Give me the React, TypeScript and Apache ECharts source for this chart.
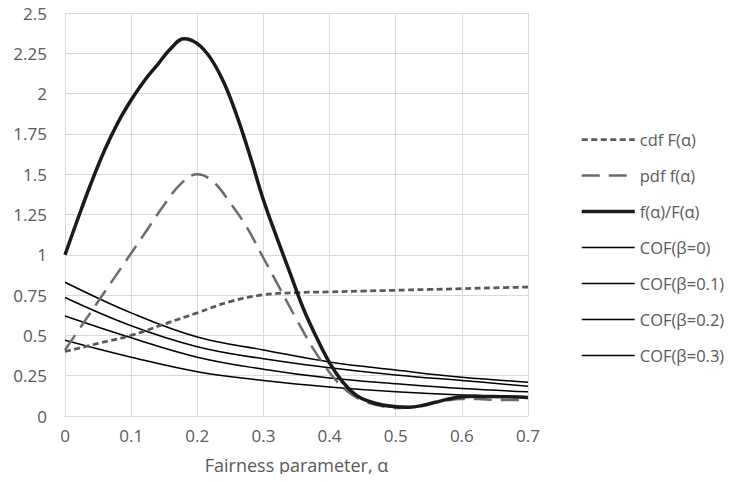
import React, { useEffect, useRef } from "react";
import * as echarts from "echarts";

const xTicksMax = 0.7;
const yTicksMax = 2.5;

const cdfAlpha = [0, 0.05, 0.1, 0.15, 0.2, 0.25, 0.3, 0.35, 0.4, 0.45, 0.5, 0.55, 0.6, 0.65, 0.7];
const cdfValues = [0.4, 0.45, 0.5, 0.57, 0.64, 0.71, 0.752, 0.765, 0.77, 0.775, 0.78, 0.785, 0.79, 0.795, 0.8];

const pdfAlpha = [0, 0.025, 0.05, 0.075, 0.1, 0.125, 0.15, 0.175, 0.2, 0.225, 0.25, 0.275, 0.3, 0.325, 0.35, 0.375, 0.4, 0.425, 0.45, 0.475, 0.5, 0.525, 0.55, 0.575, 0.6, 0.625, 0.65, 0.675, 0.7];
const pdfValues = [0.41, 0.56, 0.71, 0.86, 1.01, 1.16, 1.31, 1.44, 1.5, 1.45, 1.32, 1.17, 0.98, 0.79, 0.6, 0.42, 0.27, 0.16, 0.095, 0.065, 0.05, 0.055, 0.075, 0.095, 0.105, 0.105, 0.1, 0.1, 0.1];

const ratioAlpha = [0, 0.02, 0.04, 0.06, 0.08, 0.1, 0.12, 0.14, 0.16, 0.18, 0.2, 0.22, 0.24, 0.26, 0.28, 0.3, 0.32, 0.34, 0.36, 0.38, 0.4, 0.42, 0.44, 0.46, 0.48, 0.5, 0.52, 0.54, 0.56, 0.58, 0.6, 0.62, 0.64, 0.66, 0.68, 0.7];
const ratioValues = [1.0, 1.23, 1.45, 1.65, 1.82, 1.96, 2.08, 2.18, 2.28, 2.34, 2.31, 2.22, 2.07, 1.86, 1.61, 1.34, 1.11, 0.89, 0.67, 0.49, 0.33, 0.21, 0.13, 0.09, 0.068, 0.058, 0.055, 0.065, 0.085, 0.105, 0.12, 0.122, 0.121, 0.12, 0.118, 0.115];

const cofAlpha = [0, 0.1, 0.2, 0.3, 0.4, 0.5, 0.6, 0.7];
const cofBeta0 = [0.83, 0.64, 0.49, 0.41, 0.335, 0.285, 0.24, 0.21];
const cofBeta01 = [0.735, 0.56, 0.43, 0.355, 0.3, 0.255, 0.22, 0.185];
const cofBeta02 = [0.62, 0.485, 0.365, 0.29, 0.235, 0.2, 0.17, 0.15];
const cofBeta03 = [0.47, 0.365, 0.275, 0.22, 0.18, 0.15, 0.13, 0.12];

const seriesNames = ["cdf F(α)", "pdf f(α)", "f(α)/F(α)", "COF(β=0)", "COF(β=0.1)", "COF(β=0.2)", "COF(β=0.3)"];
const seriesWidths = [2.75, 2.5, 3.5, 1.5, 1.5, 1.5, 1.5];

const pairs = (xs: number[], ys: number[]) => xs.map((x, i) => [x, ys[i]]);

const FONT = "'Open Sans', 'Noto Sans', sans-serif";
const TEXT = "#595959";
const GRID = "#d9d9d9";

export default function App() {
  const ref = useRef<HTMLDivElement>(null);
  useEffect(() => {
    if (!ref.current) return;
    const chart = echarts.init(ref.current, undefined, { renderer: "svg" });
    const line = (i: number, data: number[][], color: string, type: any, z: number) => ({
      name: seriesNames[i],
      type: "line",
      data,
      smooth: 0.4,
      showSymbol: false,
      symbol: "none",
      z,
      lineStyle: { color, width: seriesWidths[i], type, cap: "butt" },
      itemStyle: { color },
    });
    chart.setOption({
      animation: false,
      backgroundColor: "#ffffff",
      textStyle: { fontFamily: FONT },
      grid: { left: 65, right: 204, top: 13, bottom: 66, containLabel: false },
      legend: {
        orient: "vertical",
        left: 575,
        top: 126,
        itemWidth: 53,
        itemHeight: 14,
        itemGap: 19,
        itemStyle: { opacity: 0, borderWidth: 0 },
        textStyle: { color: TEXT, fontSize: 16.5, fontFamily: FONT, lineHeight: 17 },
        data: seriesNames.map((name, i) => ({ name, lineStyle: { width: seriesWidths[i] } })),
      },
      xAxis: {
        type: "value",
        min: 0,
        max: xTicksMax,
        interval: 0.1,
        name: "Fairness parameter, α",
        nameLocation: "middle",
        nameGap: 40,
        nameTextStyle: { color: TEXT, fontSize: 18, fontFamily: FONT },
        axisLine: { show: true, lineStyle: { color: GRID, width: 1 } },
        axisTick: { show: false },
        axisLabel: { color: TEXT, fontSize: 17, fontFamily: FONT, margin: 11 },
        splitLine: { show: true, lineStyle: { color: GRID, width: 1 } },
      },
      yAxis: {
        type: "value",
        min: 0,
        max: yTicksMax,
        interval: 0.25,
        axisLine: { show: false },
        axisTick: { show: false },
        axisLabel: { color: TEXT, fontSize: 17, fontFamily: FONT, margin: 18 },
        splitLine: { show: true, lineStyle: { color: GRID, width: 1 } },
      },
      series: [
        line(0, pairs(cdfAlpha, cdfValues), "#595959", [6, 3.5], 3),
        line(1, pairs(pdfAlpha, pdfValues), "#6b6b6b", [18, 9], 3),
        line(2, pairs(ratioAlpha, ratioValues), "#1a1a1a", "solid", 4),
        line(3, pairs(cofAlpha, cofBeta0), "#000000", "solid", 2),
        line(4, pairs(cofAlpha, cofBeta01), "#000000", "solid", 2),
        line(5, pairs(cofAlpha, cofBeta02), "#000000", "solid", 2),
        line(6, pairs(cofAlpha, cofBeta03), "#000000", "solid", 2),
      ],
    });
    return () => chart.dispose();
  }, []);
  return <div ref={ref} style={{ width: 732, height: 482, margin: -8 }} />;
}
